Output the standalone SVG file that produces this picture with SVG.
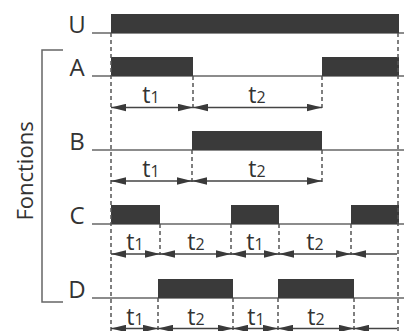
<svg xmlns="http://www.w3.org/2000/svg" width="404" height="331" viewBox="0 0 404 331">
<style>
.lbl{font-family:"Open Sans","Liberation Sans",sans-serif;font-weight:400;font-size:24px;fill:#333}
.fn{font-family:"Open Sans","Liberation Sans",sans-serif;font-weight:400;font-size:22px;fill:#333}
.t{font-family:"Open Sans","Liberation Sans",sans-serif;font-weight:400;font-size:23px;fill:#333;text-anchor:middle}
.sub{font-size:16px}
.bar{fill:#3a3a3a}
.base{stroke:#666;stroke-width:1.5;fill:none}
.dash{stroke:#555;stroke-width:1.5;stroke-dasharray:4,3;fill:none}
.arr{stroke:#444;stroke-width:1.5;fill:none;marker-start:url(#ah);marker-end:url(#ah)}
.arr1{stroke:#444;stroke-width:1.5;fill:none;marker-start:url(#ah)}
.brk{stroke:#666;stroke-width:1.5;fill:none}
</style>
<defs>
<marker id="ah" markerUnits="userSpaceOnUse" markerWidth="15" markerHeight="8" refX="15" refY="4" orient="auto-start-reverse">
<path d="M0,0.3 L15,4 L0,7.7 z" fill="#3a3a3a"/>
</marker>
</defs>
<g id="bracket">
<path class="brk" d="M63,50 H42 V302 H63"/>
<text class="fn" transform="translate(33,171) rotate(-90)" text-anchor="middle">Fonctions</text>
</g>
<g id="U">
<line class="base" x1="92" y1="33" x2="404" y2="33"/>
<rect class="bar" x="111" y="14" width="288" height="19"/>
<text class="lbl" x="77" y="33" text-anchor="middle">U</text>
</g>
<g id="A">
<line class="base" x1="92" y1="76" x2="404" y2="76"/>
<rect class="bar" x="111" y="57" width="82" height="19"/>
<rect class="bar" x="322" y="57" width="77" height="19"/>
<text class="lbl" x="77" y="76" text-anchor="middle">A</text>
</g>
<g id="B">
<line class="base" x1="92" y1="150" x2="404" y2="150"/>
<rect class="bar" x="192" y="131" width="130" height="19"/>
<text class="lbl" x="77" y="150" text-anchor="middle">B</text>
</g>
<g id="C">
<line class="base" x1="92" y1="224" x2="404" y2="224"/>
<rect class="bar" x="111" y="205" width="49" height="19"/>
<rect class="bar" x="231" y="205" width="48" height="19"/>
<rect class="bar" x="351" y="205" width="48" height="19"/>
<text class="lbl" x="77" y="224" text-anchor="middle">C</text>
</g>
<g id="D">
<line class="base" x1="92" y1="298" x2="404" y2="298"/>
<rect class="bar" x="158" y="279" width="75" height="19"/>
<rect class="bar" x="278" y="279" width="76" height="19"/>
<text class="lbl" x="77" y="298" text-anchor="middle">D</text>
</g>
<g id="connectors">
<line class="dash" x1="111" y1="33" x2="111" y2="331"/>
<line class="dash" x1="398" y1="33" x2="398" y2="331"/>
<line class="dash" x1="193" y1="76" x2="193" y2="108"/>
<line class="dash" x1="322" y1="76" x2="322" y2="108"/>
<line class="dash" x1="192" y1="150" x2="192" y2="182"/>
<line class="dash" x1="322" y1="150" x2="322" y2="182"/>
<line class="dash" x1="160" y1="224" x2="160" y2="255"/>
<line class="dash" x1="231" y1="224" x2="231" y2="255"/>
<line class="dash" x1="279" y1="224" x2="279" y2="255"/>
<line class="dash" x1="351" y1="224" x2="351" y2="255"/>
<line class="dash" x1="158" y1="298" x2="158" y2="331"/>
<line class="dash" x1="233" y1="298" x2="233" y2="331"/>
<line class="dash" x1="278" y1="298" x2="278" y2="331"/>
<line class="dash" x1="354" y1="298" x2="354" y2="331"/>
<line class="arr" x1="111" y1="107.5" x2="193" y2="107.5"/>
<line class="arr" x1="193" y1="107.5" x2="322" y2="107.5"/>
<line class="arr" x1="111" y1="181" x2="192" y2="181"/>
<line class="arr" x1="192" y1="181" x2="322" y2="181"/>
<line class="arr" x1="111" y1="254" x2="160" y2="254"/>
<line class="arr" x1="160" y1="254" x2="231" y2="254"/>
<line class="arr" x1="231" y1="254" x2="279" y2="254"/>
<line class="arr" x1="279" y1="254" x2="351" y2="254"/>
<line class="arr1" x1="351" y1="254" x2="397" y2="254"/>
<line class="arr" x1="111" y1="328.5" x2="158" y2="328.5"/>
<line class="arr" x1="158" y1="328.5" x2="233" y2="328.5"/>
<line class="arr" x1="233" y1="328.5" x2="278" y2="328.5"/>
<line class="arr" x1="278" y1="328.5" x2="354" y2="328.5"/>
<line class="arr1" x1="354" y1="328.5" x2="397" y2="328.5"/>
</g>
<g id="labels">
<text class="t" x="151" y="103">t<tspan class="sub">1</tspan></text>
<text class="t" x="257" y="103">t<tspan class="sub">2</tspan></text>
<text class="t" x="151" y="177">t<tspan class="sub">1</tspan></text>
<text class="t" x="257" y="177">t<tspan class="sub">2</tspan></text>
<text class="t" x="135" y="250">t<tspan class="sub">1</tspan></text>
<text class="t" x="196" y="250">t<tspan class="sub">2</tspan></text>
<text class="t" x="255" y="250">t<tspan class="sub">1</tspan></text>
<text class="t" x="315" y="250">t<tspan class="sub">2</tspan></text>
<text class="t" x="135" y="325">t<tspan class="sub">1</tspan></text>
<text class="t" x="196" y="325">t<tspan class="sub">2</tspan></text>
<text class="t" x="256" y="325">t<tspan class="sub">1</tspan></text>
<text class="t" x="316" y="325">t<tspan class="sub">2</tspan></text>
</g>
</svg>
